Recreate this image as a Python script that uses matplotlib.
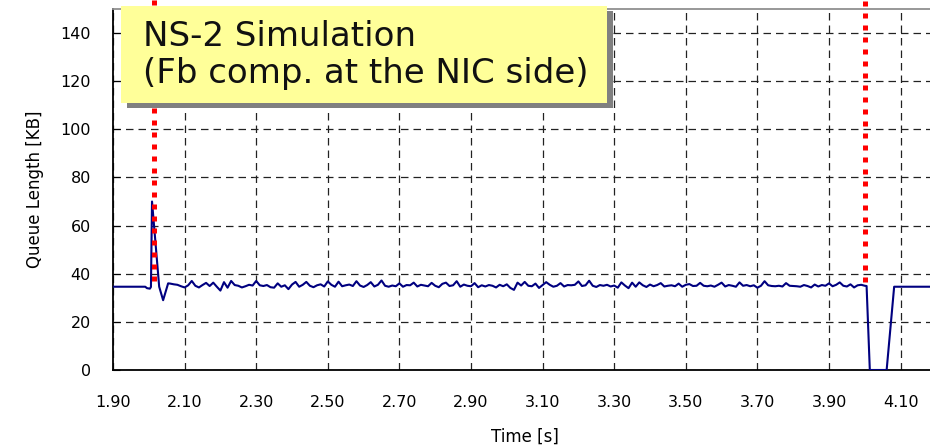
import numpy as np
import matplotlib.pyplot as plt
from matplotlib.patches import Rectangle

# -----------------------------
# Datos: longitud de cola (KB) vs tiempo (s)
# -----------------------------
t_head = [1.90, 1.99, 1.995, 2.003, 2.006, 2.009, 2.029, 2.040, 2.054]
q_head = [34.6, 34.6, 34.0, 33.8, 34.5, 70.0, 34.6, 29.0, 36.0]

# tramo estable, muestreado cada 10 ms (2.06 .. 4.00)
t_mid = np.round(np.arange(2.06, 4.001, 0.01), 3)
q_mid = [
    35.9, 35.6, 35.4, 34.8, 34.3, 35.2, 37.0, 35.0, 34.3, 35.3,
    36.2, 34.9, 36.3, 34.6, 33.0, 36.5, 34.2, 37.0, 35.3, 35.0,
    34.3, 34.8, 35.4, 35.1, 37.0, 35.2, 34.9, 35.3, 34.4, 34.2,
    36.0, 34.6, 35.2, 33.6, 35.5, 36.6, 34.6, 35.4, 36.6, 35.0,
    34.4, 35.2, 35.6, 34.7, 36.8, 35.4, 34.6, 36.7, 34.8, 35.2,
    35.5, 34.9, 36.9, 35.1, 34.5, 35.3, 36.5, 34.7, 35.4, 37.2,
    35.0, 34.6, 35.1, 34.8, 36.0, 34.6, 35.3, 35.2, 36.3, 34.7,
    35.4, 35.1, 34.8, 36.2, 35.0, 34.4, 35.8, 36.3, 34.9, 35.2,
    36.9, 34.6, 35.5, 35.0, 34.8, 36.1, 34.4, 35.2, 34.7, 35.3,
    35.0, 34.3, 35.4, 34.8, 35.6, 34.1, 33.3, 36.3, 35.1, 36.6,
    35.0, 34.8, 35.9, 34.1, 35.3, 36.5, 35.4, 34.6, 35.0, 36.1,
    34.7, 35.3, 35.2, 35.4, 36.8, 34.9, 35.2, 37.1, 35.0, 34.5,
    35.3, 35.0, 35.4, 34.7, 35.1, 34.2, 36.4, 35.1, 34.0, 36.3,
    34.6, 36.4, 35.2, 34.5, 35.5, 34.8, 35.3, 36.1, 34.7, 35.0,
    35.2, 34.8, 35.9, 34.6, 35.4, 35.7, 34.9, 35.0, 36.2, 35.0,
    34.8, 35.1, 34.6, 35.4, 36.3, 34.7, 35.3, 35.0, 34.6, 36.4,
    35.0, 35.3, 34.8, 35.2, 34.2, 35.0, 36.9, 35.2, 34.9, 34.8,
    35.0, 34.7, 36.1, 35.0, 34.9, 34.8, 34.6, 35.3, 34.9, 34.3,
    35.5, 34.7, 35.3, 35.0, 36.0, 34.8, 35.4, 36.4, 35.0, 34.7,
    35.6, 34.3, 35.2, 35.4, 35.0,
]

# caída a cero y recuperación
t_tail = [4.005, 4.014, 4.061, 4.082, 4.20]
q_tail = [34.9, 0.0, 0.0, 34.6, 34.6]

time = np.concatenate([t_head, t_mid, t_tail])
queue = np.concatenate([q_head, q_mid, q_tail])

# instantes marcados con línea roja punteada y su extremo inferior (KB)
event_t = [2.015, 4.000]
event_bottom = [37.0, 36.5]

xticks = np.round(np.arange(1.9, 4.11, 0.2), 2)
xtick_labels = [f"{v:.2f}" for v in xticks]
yticks = [0, 20, 40, 60, 80, 100, 120, 140]

title_lines = ["NS-2 Simulation", "(Fb comp. at the NIC side)"]

# -----------------------------
# Figura
# -----------------------------
W, H = 930, 445
fig = plt.figure(figsize=(W / 100, H / 100), dpi=100)
ax = fig.add_axes([113 / W, 75 / H, 823.4 / W, 361 / H])

ax.plot(time, queue, color="#000080", linewidth=1.5, zorder=3)

for tx, yb in zip(event_t, event_bottom):
    ax.plot([tx, tx], [yb, 155], color="#FF0000", linewidth=3.6,
            linestyle=(0, (1, 1.4)), dash_capstyle="butt",
            clip_on=False, zorder=4)

ax.set_xlim(1.9, 4.2)
ax.set_ylim(0, 150)
ax.set_xticks(xticks)
ax.set_xticklabels(xtick_labels)
ax.set_yticks(yticks)

ax.grid(True, color="#222222", linewidth=0.9, linestyle=(0, (6, 4)))
ax.set_axisbelow(True)

for side in ("left", "bottom"):
    ax.spines[side].set_color("black")
    ax.spines[side].set_linewidth(1.3)
ax.spines["top"].set_color("#909090")
ax.spines["top"].set_linewidth(1.3)
ax.spines["right"].set_visible(False)

ax.tick_params(axis="y", direction="in", length=5, pad=16, labelsize=11.5)
ax.tick_params(axis="x", length=0, pad=18, labelsize=11.5)

ax.set_xlabel("Time [s]", fontsize=12, labelpad=13)
ax.set_ylabel("Queue Length [KB]", fontsize=12, labelpad=12)

# -----------------------------
# Recuadro amarillo con sombra
# -----------------------------
def px(x, y):
    # píxeles (origen arriba a la izquierda) -> fracción de figura
    return (x / W, 1 - y / H)

renderer = fig.canvas.get_renderer()
texts = []
for line, base in zip(title_lines, [46, 83]):
    texts.append(fig.text(*px(143, base), line, fontsize=24.5, color="#111111",
                          ha="left", va="baseline", zorder=12))
right = max(t.get_window_extent(renderer).x1 for t in texts) + 18

box_left, box_top, box_bottom = 121, 6, 102.7
bw = (right - box_left) / W
bh = (box_bottom - box_top) / H
shadow = Rectangle(px(box_left + 6, box_bottom + 5), bw, bh,
                   transform=fig.transFigure,
                   facecolor="#808080", edgecolor="none", zorder=10)
box = Rectangle(px(box_left, box_bottom), bw, bh, transform=fig.transFigure,
                facecolor="#FFFF99", edgecolor="none", zorder=11)
fig.add_artist(shadow)
fig.add_artist(box)

fig.savefig("out.png", dpi=100)
